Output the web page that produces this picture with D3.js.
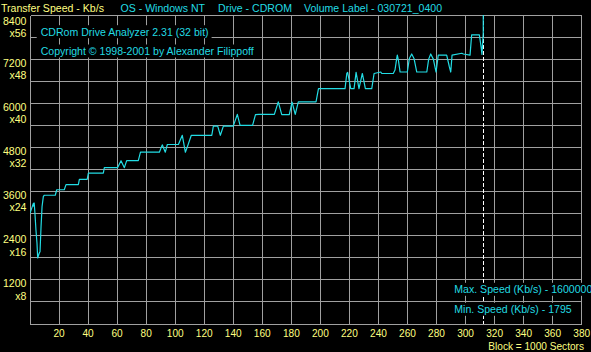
<!DOCTYPE html>
<html lang="en">
<head>
  <meta charset="UTF-8">
  <title>CDRom Drive Analyzer - Transfer Speed</title>
  <script src="https://d3js.org/d3.v7.min.js"></script>
  <style>
    html, body { margin: 0; padding: 0; background: #000; overflow: hidden; }
    text { font-family: "Liberation Sans", Arial, sans-serif; font-size: 11.5px; }
  </style>
</head>
<body>
  <div id="chart"></div>

  <script>
    // Block position (x1000 sectors) and measured transfer speed (Kb/s)
    const sectors = [0, 2.3, 2.6, 2.9, 3.4, 4.1, 4.8, 5.3, 6.4, 6.9, 7.6, 8.3, 9.2, 9.9,
      17.4, 18.4, 23.6, 24.8, 33.3, 34.0, 39.4, 40.2, 50.5, 51.2, 60.3, 62.7, 65.0, 66.6,
      74.6, 76.1, 89.1, 91.1, 93.2, 94.6, 102.2, 104.9, 107.0, 108.4, 111.1, 125.2, 126.3,
      129.3, 131.1, 133.2, 140.0, 142.8, 144.7, 153.3, 155.3, 157.7, 168.3, 171.0, 173.4,
      178.6, 180.5, 182.7, 184.8, 197.0, 198.7, 217.0, 218.2, 218.8, 220.9, 223.2, 224.6,
      226.6, 228.9, 231.0, 235.4, 237.0, 241.6, 242.3, 250.2, 251.4, 252.6, 253.0, 253.7,
      254.9, 259.9, 261.3, 262.9, 264.5, 266.4, 273.3, 274.6, 276.0, 277.8, 279.7, 281.2,
      287.0, 288.8, 289.8, 290.7, 297.4, 298.5, 303.1, 304.2, 309.5, 310.7, 311.3, 312.2, 312.7];
    const speeds = [3010, 3280, 3200, 3290, 3010, 2555, 2200, 1795, 1930, 1965, 2645, 3190, 3470, 3500,
      3500, 3650, 3650, 3790, 3790, 3930, 3930, 4100, 4100, 4250, 4250, 4440, 4250, 4440,
      4440, 4670, 4670, 4870, 4670, 4880, 4880, 5130, 4670, 4820, 5130, 5130, 5380,
      5380, 5130, 5380, 5380, 5700, 5400, 5400, 5690, 5700, 5700, 6040, 5690,
      5690, 6030, 5700, 6040, 6040, 6400, 6400, 6810, 6840, 6400, 6400, 6840,
      6400, 6810, 6400, 6400, 6810, 6850, 6810, 6810, 6905, 7220, 7310, 7180,
      6850, 6850, 7220, 7340, 7220, 6850, 6850, 7200, 7340, 7200, 6850, 7310,
      7310, 7000, 6850, 7310, 7360, 7340, 7310, 7860, 7860, 7540, 7330, 7900, 1600000];

    const yTicks = [1200, 2400, 3600, 4800, 6000, 7200, 8400];
    const yMult = ["x8", "x16", "x24", "x32", "x40", "x48", "x56"];
    const xTicks = [20, 40, 60, 80, 100, 120, 140, 160, 180, 200, 220, 240, 260, 280, 300, 320, 340, 360, 380];
    const markerSector = 312.2;

    const header = [
      { x: 1, s: "Transfer Speed - Kb/s", c: "yellow" },
      { x: 120.5, s: "OS - Windows NT", c: "cyan" },
      { x: 218, s: "Drive - CDROM", c: "cyan" },
      { x: 304, s: "Volume Label - 030721_0400", c: "cyan" }
    ];
    const infoTop = ["CDRom Drive Analyzer 2.31 (32 bit)", "Copyright \u00A9 1998-2001 by Alexander Filippoff"];
    const infoBottom = ["Max. Speed (Kb/s) - 1600000", "Min. Speed (Kb/s) - 1795"];

    const colors = { yellow: "#ffff80", cyan: "#22dce4", grid: "#a0a0a0" };
    const W = 591, H = 352;
    const plot = { left: 30, right: 581.7, top: 15, bottom: 324 };
    const sx = 0.92; // bitmap font is narrower than Arial

    const svg = d3.select("#chart").append("svg")
      .attr("width", W).attr("height", H)
      .style("display", "block").style("background", "#000");

    const x = d3.scaleLinear().domain([0, 380]).range([plot.left, plot.right]);
    const y = d3.scaleLinear().domain([0, 8400]).range([plot.bottom, plot.top]);
    const px = (v) => Math.floor(v) + 0.5;

    function label(g, xx, yy, s, color, anchor, size) {
      const t = g.append("text")
        .attr("transform", `translate(${xx},${yy}) scale(${sx},1)`)
        .attr("text-anchor", anchor || "start")
        .attr("fill", color)
        .text(s);
      if (size) t.style("font-size", size + "px");
      return t;
    }

    // grid (border included)
    const grid = svg.append("g").attr("stroke", colors.grid).attr("stroke-width", 1)
      .attr("shape-rendering", "crispEdges");
    grid.selectAll(".v").data(d3.range(0, 381, 20)).enter().append("line")
      .attr("x1", (d) => px(x(d))).attr("x2", (d) => px(x(d)))
      .attr("y1", px(plot.top)).attr("y2", px(plot.bottom));
    grid.selectAll(".h").data(d3.range(0, 8401, 600)).enter().append("line")
      .attr("x1", px(plot.left)).attr("x2", px(plot.right))
      .attr("y1", (d) => px(y(d))).attr("y2", (d) => px(y(d)));

    // dashed marker at the end of the test
    svg.append("line")
      .attr("x1", px(x(markerSector))).attr("x2", px(x(markerSector)))
      .attr("y1", plot.top).attr("y2", plot.bottom)
      .attr("stroke", "#fff").attr("stroke-dasharray", "4,2")
      .attr("shape-rendering", "crispEdges");

    // info texts with opaque background
    const info = svg.append("g");
    function boxed(xx, yy, s) {
      const bg = info.append("rect").attr("fill", "#000");
      const t = label(info, xx, yy, s, colors.cyan);
      const b = t.node().getBBox();
      bg.attr("x", xx - 4).attr("y", yy - 10.5)
        .attr("width", b.width * sx + 7).attr("height", 13);
    }
    infoTop.forEach((s, i) => boxed(40.7, 35.7 + i * 19.3, s));
    infoBottom.forEach((s, i) => boxed(454.3, 293.3 + i * 20, s));

    // speed curve
    svg.append("clipPath").attr("id", "clip").append("rect")
      .attr("x", plot.left).attr("y", plot.top)
      .attr("width", plot.right - plot.left).attr("height", plot.bottom - plot.top);

    const line = d3.line()
      .x((d, i) => x(sectors[i]))
      .y((d) => y(d));

    svg.append("path")
      .datum(speeds)
      .attr("clip-path", "url(#clip)")
      .attr("fill", "none")
      .attr("stroke", colors.cyan)
      .attr("stroke-width", 1.2)
      .attr("stroke-linejoin", "round")
      .attr("d", line);

    // y labels
    const yl = svg.append("g");
    yTicks.forEach((v, i) => {
      const base = y(v) + (v === 8400 ? 9.5 : 7.5);
      label(yl, 26.5, base, String(v), colors.yellow, "end");
      label(yl, 26.5, base + 12.3, yMult[i], colors.yellow, "end");
    });

    // x labels
    const xl = svg.append("g");
    xTicks.forEach((v) => label(xl, x(v), 337, String(v), colors.yellow, "middle", 11));
    label(xl, 584, 349.5, "Block = 1000 Sectors", colors.yellow, "end", 11);

    // header
    const hd = svg.append("g");
    header.forEach((h) => label(hd, h.x, 12, h.s, colors[h.c]));
  </script>
</body>
</html>
